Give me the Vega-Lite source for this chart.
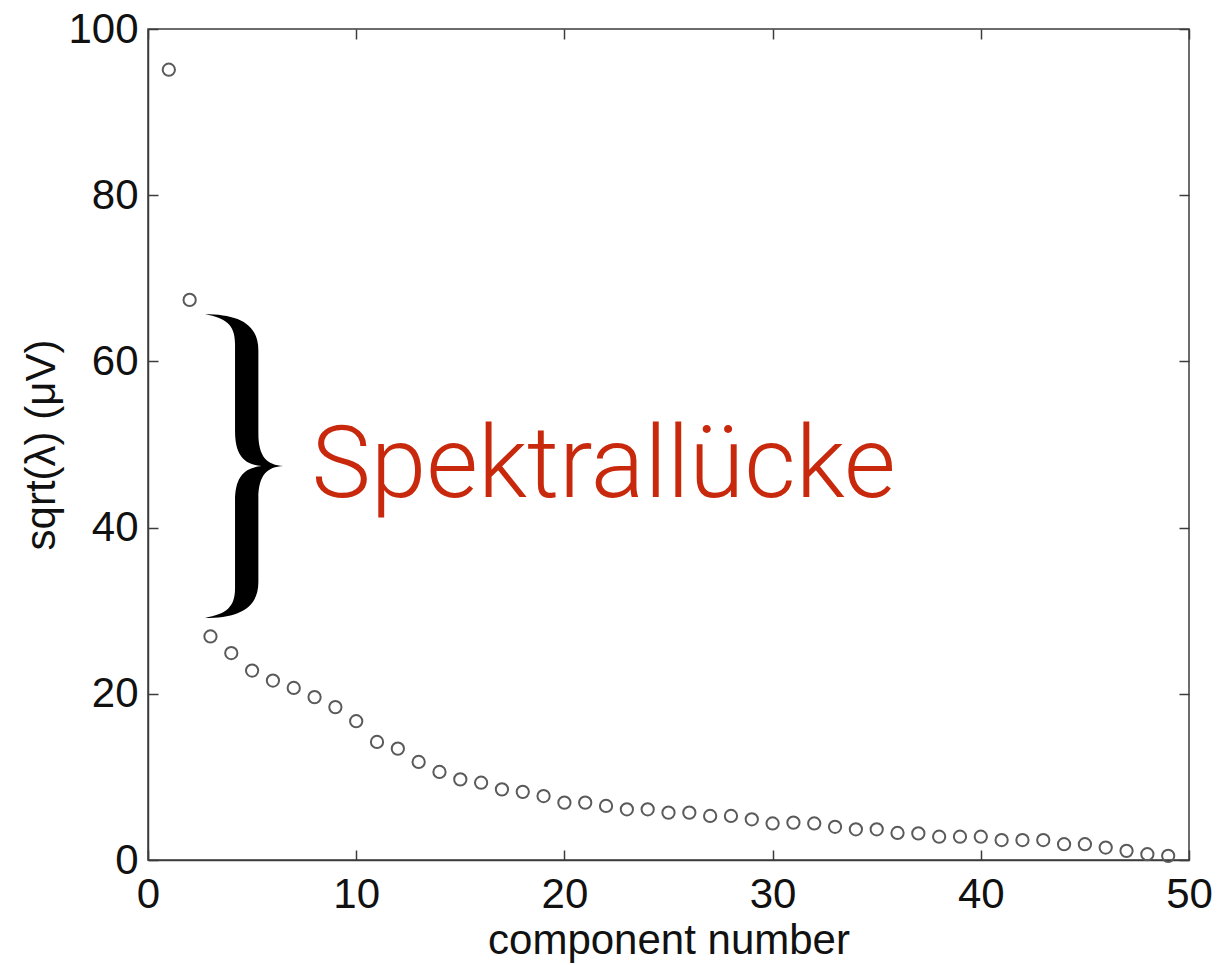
{
  "$schema": "https://vega.github.io/schema/vega-lite/v6.json",
  "width": 1041,
  "height": 831,
  "autosize": {"type": "none"},
  "padding": {"left": 148, "top": 29, "right": 34, "bottom": 105},
  "background": "white",
  "config": {
    "view": {"stroke": "#3c3c3c", "strokeWidth": 1.5},
    "axis": {
      "domainColor": "#3c3c3c",
      "domainWidth": 1.5,
      "tickColor": "#3c3c3c",
      "tickWidth": 1.5,
      "tickSize": -10,
      "grid": false,
      "labelFont": "Liberation Sans",
      "labelFontSize": 42,
      "labelColor": "#111111",
      "titleFont": "Liberation Sans",
      "titleFontSize": 42,
      "titleFontWeight": "normal",
      "titleColor": "#111111",
      "labelFlush": false,
      "labelOverlap": false
    }
  },
  "layer": [
    {
      "data": {
        "values": [
          {"n": 1, "v": 95.1}, {"n": 2, "v": 67.4}, {"n": 3, "v": 26.9}, {"n": 4, "v": 24.9},
          {"n": 5, "v": 22.8}, {"n": 6, "v": 21.6}, {"n": 7, "v": 20.7}, {"n": 8, "v": 19.6},
          {"n": 9, "v": 18.4}, {"n": 10, "v": 16.7}, {"n": 11, "v": 14.2}, {"n": 12, "v": 13.4},
          {"n": 13, "v": 11.8}, {"n": 14, "v": 10.6}, {"n": 15, "v": 9.7}, {"n": 16, "v": 9.3},
          {"n": 17, "v": 8.5}, {"n": 18, "v": 8.2}, {"n": 19, "v": 7.7}, {"n": 20, "v": 6.9},
          {"n": 21, "v": 6.9}, {"n": 22, "v": 6.5}, {"n": 23, "v": 6.1}, {"n": 24, "v": 6.1},
          {"n": 25, "v": 5.7}, {"n": 26, "v": 5.7}, {"n": 27, "v": 5.3}, {"n": 28, "v": 5.3},
          {"n": 29, "v": 4.9}, {"n": 30, "v": 4.4}, {"n": 31, "v": 4.5}, {"n": 32, "v": 4.4},
          {"n": 33, "v": 4.0}, {"n": 34, "v": 3.7}, {"n": 35, "v": 3.7}, {"n": 36, "v": 3.25},
          {"n": 37, "v": 3.2}, {"n": 38, "v": 2.8}, {"n": 39, "v": 2.8}, {"n": 40, "v": 2.8},
          {"n": 41, "v": 2.4}, {"n": 42, "v": 2.4}, {"n": 43, "v": 2.4}, {"n": 44, "v": 1.9},
          {"n": 45, "v": 1.9}, {"n": 46, "v": 1.5}, {"n": 47, "v": 1.1}, {"n": 48, "v": 0.7},
          {"n": 49, "v": 0.5}
        ]
      },
      "mark": {"type": "point", "shape": "circle", "size": 150, "filled": false, "stroke": "#5a5a5a", "strokeWidth": 2, "opacity": 1},
      "encoding": {
        "x": {
          "field": "n", "type": "quantitative",
          "scale": {"domain": [0, 50], "nice": false, "zero": false},
          "axis": {"orient": "bottom", "values": [0, 10, 20, 30, 40, 50], "labelPadding": 24, "title": "component number", "titlePadding": 5}
        },
        "y": {
          "field": "v", "type": "quantitative",
          "scale": {"domain": [0, 100], "nice": false, "zero": false},
          "axis": {"orient": "left", "values": [0, 20, 40, 60, 80, 100], "labelPadding": 20, "title": "sqrt(λ) (μV)", "titlePadding": 4}
        }
      }
    },
    {
      "data": {"values": [{"bx": 4.62, "by": 47.4}]},
      "mark": {
        "type": "point",
        "shape": "M -0.257 -0.996 C -0.05 -0.996 0.093 -0.94 0.093 -0.76 L 0.093 -0.213 C 0.093 -0.06 0.15 -0.005 0.257 0 C 0.15 0.005 0.093 0.06 0.093 0.213 L 0.093 0.76 C 0.093 0.94 -0.05 0.996 -0.257 0.996 C -0.12 0.97 -0.06 0.93 -0.06 0.8 L -0.06 0.23 C -0.06 0.07 0 0.01 0.115 0 C 0 -0.01 -0.06 -0.07 -0.06 -0.23 L -0.06 -0.8 C -0.06 -0.93 -0.12 -0.97 -0.257 -0.996 Z",
        "size": 93025,
        "filled": true,
        "fill": "black",
        "strokeWidth": 0,
        "opacity": 1
      },
      "encoding": {
        "x": {
          "field": "bx", "type": "quantitative",
          "scale": {"domain": [0, 50], "nice": false, "zero": false},
          "axis": {"orient": "top", "values": [0, 10, 20, 30, 40, 50], "labels": false, "title": null, "domain": false}
        },
        "y": {
          "field": "by", "type": "quantitative",
          "scale": {"domain": [0, 100], "nice": false, "zero": false},
          "axis": {"orient": "right", "values": [0, 20, 40, 60, 80, 100], "labels": false, "title": null, "domain": false}
        }
      }
    },
    {
      "data": {"values": [{"tx": 7.85, "ty": 43.7, "label": "Spektrallücke"}]},
      "mark": {"type": "text", "align": "left", "baseline": "alphabetic", "font": "Roboto", "fontWeight": 300, "fontSize": 100, "color": "#c8290c"},
      "encoding": {
        "x": {"field": "tx", "type": "quantitative", "scale": {"domain": [0, 50], "nice": false, "zero": false}, "axis": null},
        "y": {"field": "ty", "type": "quantitative", "scale": {"domain": [0, 100], "nice": false, "zero": false}, "axis": null},
        "text": {"field": "label"}
      }
    }
  ],
  "resolve": {"axis": {"x": "independent", "y": "independent"}}
}
